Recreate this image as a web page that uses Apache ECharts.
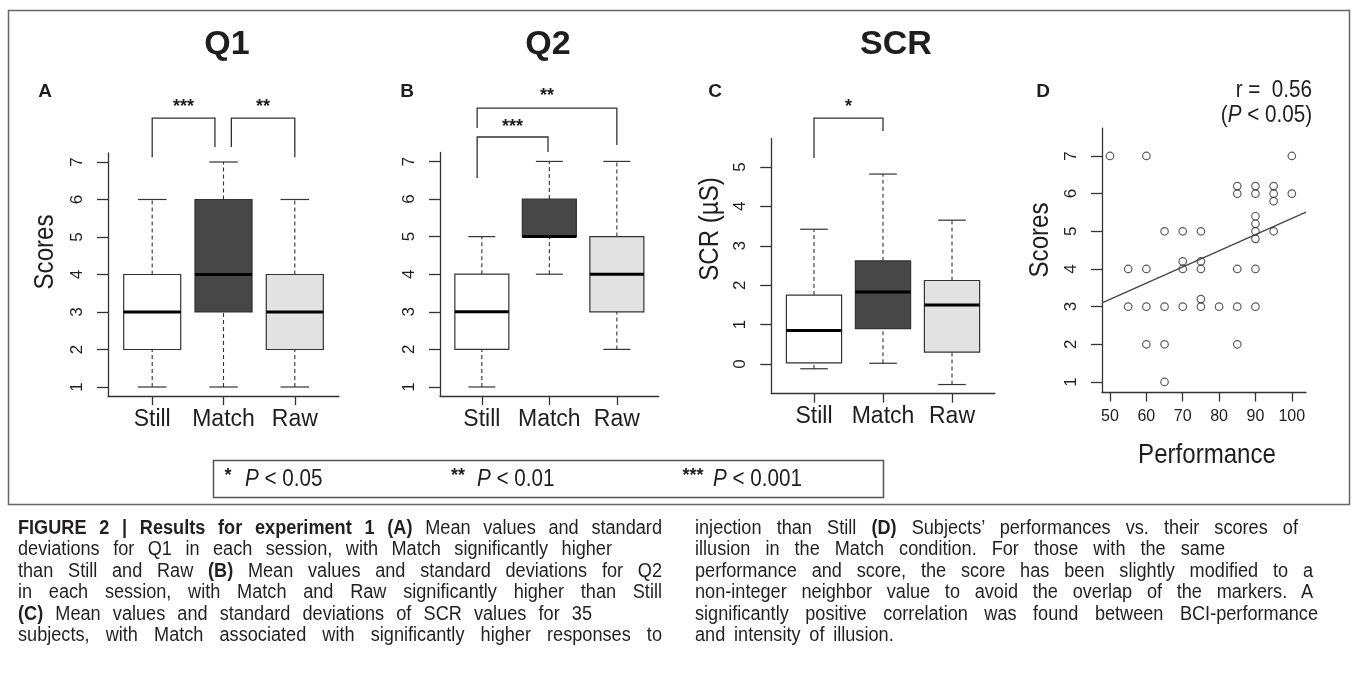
<!DOCTYPE html>
<html><head><meta charset="utf-8">
<script src="https://cdn.jsdelivr.net/npm/echarts@6/dist/echarts.min.js"></script>
<style>
html,body{margin:0;padding:0;background:#fff;width:1355px;height:687px;overflow:hidden;}
#chart{position:absolute;left:0;top:0;width:1355px;height:687px;}
.cap{position:absolute;font-family:"Liberation Sans",Arial,sans-serif;font-size:19.5px;color:#231f20;line-height:21.4px;}
.cap div{height:21.4px;transform:scaleX(0.93);transform-origin:0 0;white-space:normal;}
.cap .j{text-align:justify;text-align-last:justify;}
</style></head><body>
<div id="chart"></div>
<div class="cap" id="capL" style="left:18px;top:517px;"></div>
<div class="cap" id="capR" style="left:695px;top:517px;"></div>
<script>
// ---------------- data ----------------
const categories = ['Still', 'Match', 'Raw'];
// box statistics: [lower whisker, Q1, median, Q3, upper whisker]
const q1Still = [1, 2, 3, 4, 6];
const q1Match = [1, 3, 4, 6, 7];
const q1Raw   = [1, 2, 3, 4, 6];
const q2Still = [1, 2, 3, 4, 5];
const q2Match = [4, 5, 5, 6, 7];
const q2Raw   = [2, 3, 4, 5, 7];
const scrStill = [-0.12, 0.03, 0.85, 1.75, 3.42];
const scrMatch = [0.02, 0.90, 1.83, 2.62, 4.82];
const scrRaw   = [-0.52, 0.30, 1.50, 2.12, 3.65];
const scoreTicks = [1, 2, 3, 4, 5, 6, 7];
const scrTicks = [0, 1, 2, 3, 4, 5];
const perfTicks = [50, 60, 70, 80, 90, 100];
// panel D: performance vs. scores (jittered scores as plotted)
const performance = [50, 60, 100, 85, 90, 95, 85, 90, 95, 100, 95, 90, 90, 65, 70, 75, 90, 95, 90, 70, 75,
                     55, 60, 70, 75, 85, 90, 75, 55, 60, 65, 70, 75, 80, 85, 90, 60, 65, 85, 65];
const scores =      [7, 7, 7, 6.2, 6.2, 6.2, 6, 6, 6, 6, 5.8, 5.4, 5.2, 5, 5, 5, 5, 5, 4.8, 4.2, 4.2,
                     4, 4, 4, 4, 4, 4, 3.2, 3, 3, 3, 3, 3, 3, 3, 3, 2, 2, 2, 1];
// fitted regression line (end points)
const fitX = [47.8, 103.9];
const fitY = [3.10, 5.51];
// significance brackets: [xLeft, xRight, yLeftEnd, yTop, yRightEnd, yStars]
const bracketsQ1 = [[1.0, 1.88, 7.13, 8.17, 7.40, 8.47], [2.11, 3.0, 7.40, 8.17, 7.13, 8.47]];
const starsQ1 = ['***', '**'];
const bracketsQ2 = [[0.93, 1.98, 6.56, 7.65, 7.25, 7.92], [0.93, 3.0, 7.89, 8.42, 7.44, 8.74]];
const starsQ2 = ['***', '**'];
const bracketsSCR = [[1.0, 2.0, 5.23, 6.24, 5.91, 6.52]];
const starsSCR = ['*'];

// ---------------- style ----------------
const SANS = '"Liberation Sans",Arial,sans-serif';
const INK = '#1e1e1e';
const AX = {color: '#333', width: 1.3};
const BOX_FILLS = ['#ffffff', '#474747', '#e2e2e2'];
const NARROW_SCALE = 0.86;

function boxItem(params, api) {
  const x = api.value(0), lo = api.value(1), q1 = api.value(2), med = api.value(3), q3 = api.value(4), hi = api.value(5);
  const p = (a, b) => api.coord([a, b]);
  const half = 0.4, cap = 0.2;
  const seg = (a, b, style) => ({type: 'line', shape: {x1: a[0], y1: a[1], x2: b[0], y2: b[1]}, style});
  const dash = {stroke: '#333', lineWidth: 1.1, lineDash: [4, 3]};
  const solid = {stroke: '#333', lineWidth: 1.2};
  const tl = p(x - half, q3), br = p(x + half, q1);
  return {type: 'group', children: [
    seg(p(x, lo), p(x, q1), dash),
    seg(p(x, q3), p(x, hi), dash),
    seg(p(x - cap, lo), p(x + cap, lo), solid),
    seg(p(x - cap, hi), p(x + cap, hi), solid),
    {type: 'rect', shape: {x: tl[0], y: tl[1], width: br[0] - tl[0], height: br[1] - tl[1]},
     style: {fill: BOX_FILLS[params.dataIndex], stroke: '#333', lineWidth: 1.2}},
    seg(p(x - half, med), p(x + half, med), {stroke: '#000', lineWidth: 3})
  ]};
}
function bracketItem(labels) {
  return function (params, api) {
    const xl = api.value(0), xr = api.value(1), yl = api.value(2), yt = api.value(3), yr = api.value(4), ys = api.value(5);
    const a = api.coord([xl, yl]), b = api.coord([xl, yt]), c = api.coord([xr, yt]), d = api.coord([xr, yr]);
    const s = api.coord([(xl + xr) / 2, ys]);
    return {type: 'group', children: [
      {type: 'polyline', shape: {points: [a, b, c, d]}, style: {stroke: '#333', lineWidth: 1.3, fill: null}},
      {type: 'text', x: s[0], y: s[1], style: {text: labels[params.dataIndex], fill: INK,
        font: 'bold 18px ' + SANS, align: 'center', verticalAlign: 'middle', textAlign: 'center', textVerticalAlign: 'middle'}}
    ]};
  };
}
function boxData(a, b, c) { return [[1].concat(a), [2].concat(b), [3].concat(c)]; }

function catX(g) {
  return {type: 'value', gridIndex: g, min: 0.38, max: 3.62,
    axisLine: {show: true, onZero: false, lineStyle: AX},
    axisTick: {show: true, length: 9, customValues: [1, 2, 3], lineStyle: AX},
    axisLabel: {show: true, customValues: [1, 2, 3], formatter: v => categories[Math.round(v) - 1] || '',
      fontFamily: SANS, fontSize: 23, color: INK, margin: 12},
    splitLine: {show: false}};
}
function valY(g, min, max, ticks) {
  return {type: 'value', gridIndex: g, min, max,
    axisLine: {show: true, onZero: false, lineStyle: AX},
    axisTick: {show: true, length: 11, customValues: ticks, lineStyle: AX},
    axisLabel: {show: true, customValues: ticks, rotate: 90, fontFamily: SANS, fontSize: 17, color: INK, margin: 22},
    splitLine: {show: false}};
}
function txt(text, x, y, font, opts) {
  const o = Object.assign({align: 'center', rotation: 0, scaleX: 1, rich: undefined}, opts || {});
  return {type: 'text', x, y, rotation: o.rotation, scaleX: o.scaleX, z: 10,
    style: {text, font, fill: INK, align: o.align, verticalAlign: 'middle', textAlign: o.align, textVerticalAlign: 'middle', rich: o.rich}};
}
const rich = (size) => ({n: {fontFamily: SANS, fontSize: size, fill: INK, color: INK},
                        i: {fontFamily: SANS, fontSize: size, fontStyle: 'italic', fill: INK, color: INK}});
const narrow = (extra) => Object.assign({scaleX: NARROW_SCALE}, extra || {});

const chart = echarts.init(document.getElementById('chart'), null, {renderer: 'canvas'});
chart.setOption({
  animation: false,
  backgroundColor: '#fff',
  grid: [
    {left: 108, top: 153, width: 231, height: 243},
    {left: 440, top: 152.4, width: 218.7, height: 243.6},
    {left: 771.2, top: 138.6, width: 223.6, height: 255},
    {left: 1102, top: 128.1, width: 204, height: 264.4}
  ],
  xAxis: [catX(0), catX(1), catX(2),
    {type: 'value', gridIndex: 3, min: 47.8, max: 103.9,
     axisLine: {show: true, onZero: false, lineStyle: AX},
     axisTick: {show: true, length: 9, customValues: perfTicks, lineStyle: AX},
     axisLabel: {show: true, customValues: perfTicks, fontFamily: SANS, fontSize: 16, color: INK, margin: 16},
     splitLine: {show: false}}],
  yAxis: [valY(0, 0.76, 7.24, scoreTicks), valY(1, 0.76, 7.24, scoreTicks),
          valY(2, -0.75, 5.72, scrTicks), valY(3, 0.72, 7.74, scoreTicks)],
  series: [
    {type: 'custom', xAxisIndex: 0, yAxisIndex: 0, clip: false, renderItem: boxItem, encode: {x: 0, y: [1, 2, 3, 4, 5]}, data: boxData(q1Still, q1Match, q1Raw)},
    {type: 'custom', xAxisIndex: 1, yAxisIndex: 1, clip: false, renderItem: boxItem, encode: {x: 0, y: [1, 2, 3, 4, 5]}, data: boxData(q2Still, q2Match, q2Raw)},
    {type: 'custom', xAxisIndex: 2, yAxisIndex: 2, clip: false, renderItem: boxItem, encode: {x: 0, y: [1, 2, 3, 4, 5]}, data: boxData(scrStill, scrMatch, scrRaw)},
    {type: 'custom', xAxisIndex: 0, yAxisIndex: 0, clip: false, renderItem: bracketItem(starsQ1), encode: {x: [0, 1], y: [2, 3, 4, 5]}, data: bracketsQ1},
    {type: 'custom', xAxisIndex: 1, yAxisIndex: 1, clip: false, renderItem: bracketItem(starsQ2), encode: {x: [0, 1], y: [2, 3, 4, 5]}, data: bracketsQ2},
    {type: 'custom', xAxisIndex: 2, yAxisIndex: 2, clip: false, renderItem: bracketItem(starsSCR), encode: {x: [0, 1], y: [2, 3, 4, 5]}, data: bracketsSCR},
    {type: 'scatter', xAxisIndex: 3, yAxisIndex: 3, symbol: 'circle', symbolSize: 7.5,
     itemStyle: {color: 'rgba(255,255,255,0)', borderColor: '#333', borderWidth: 1.2},
     data: performance.map((p, i) => [p, scores[i]])},
    {type: 'line', xAxisIndex: 3, yAxisIndex: 3, symbol: 'none', lineStyle: {color: '#444', width: 1.3},
     data: fitX.map((x, i) => [x, fitY[i]])}
  ],
  graphic: [
    {type: 'rect', shape: {x: 8.5, y: 10.5, width: 1341, height: 494}, style: {fill: null, stroke: '#666', lineWidth: 1.5}},
    txt('Q1', 227, 45, 'bold 34px ' + SANS),
    txt('Q2', 548, 45, 'bold 34px ' + SANS),
    txt('SCR', 896, 45, 'bold 34px ' + SANS),
    txt('A', 45, 92, 'bold 19px ' + SANS),
    txt('B', 407, 92, 'bold 19px ' + SANS),
    txt('C', 715, 92, 'bold 19px ' + SANS),
    txt('D', 1043, 92, 'bold 19px ' + SANS),
    txt('Scores', 45, 252, '28px ' + SANS, narrow({rotation: Math.PI / 2})),
    txt('SCR (\u00b5S)', 710, 229, '28px ' + SANS, narrow({rotation: Math.PI / 2})),
    txt('Scores', 1040, 240, '28px ' + SANS, narrow({rotation: Math.PI / 2})),
    txt('Performance', 1207, 455, '28px ' + SANS, narrow()),
    txt('r =  0.56', 1312, 90, '24px ' + SANS, narrow({align: 'right'})),
    txt('{n|(}{i|P}{n| < 0.05)}', 1312, 115, '24px ' + SANS, narrow({align: 'right', rich: rich(24)})),
    {type: 'rect', shape: {x: 213.5, y: 460.5, width: 670, height: 37}, style: {fill: '#fff', stroke: '#555', lineWidth: 1.5}},
    txt('*', 228, 476, 'bold 18px ' + SANS),
    txt('{i|P}{n| < 0.05}', 245, 479, '24px ' + SANS, narrow({align: 'left', rich: rich(24)})),
    txt('**', 458, 476, 'bold 18px ' + SANS),
    txt('{i|P}{n| < 0.01}', 477, 479, '24px ' + SANS, narrow({align: 'left', rich: rich(24)})),
    txt('***', 693, 476, 'bold 18px ' + SANS),
    txt('{i|P}{n| < 0.001}', 713, 479, '24px ' + SANS, narrow({align: 'left', rich: rich(24)}))
  ]
});

// ---------------- caption ----------------
const captionLeft = [
  ['<b>FIGURE 2 | Results for experiment 1 (A)</b> Mean values and standard', 644],
  ['deviations for Q1 in each session, with Match significantly higher', 594],
  ['than Still and Raw <b>(B)</b> Mean values and standard deviations for Q2', 644],
  ['in each session, with Match and Raw significantly higher than Still', 644],
  ['<b>(C)</b> Mean values and standard deviations of SCR values for 35', 574],
  ['subjects, with Match associated with significantly higher responses to', 644]
];
const captionRight = [
  ['injection than Still <b>(D)</b> Subjects\u2019 performances vs. their scores of', 603],
  ['illusion in the Match condition. For those with the same', 530],
  ['performance and score, the score has been slightly modified to a', 618],
  ['non-integer neighbor value to avoid the overlap of the markers. A', 618],
  ['significantly positive correlation was found between BCI-performance', 623],
  ['and intensity of illusion.', 0]
];
function fillCap(id, lines) {
  const el = document.getElementById(id);
  const s = 0.93;
  lines.forEach(([html, w]) => {
    const d = document.createElement('div');
    d.innerHTML = html;
    if (w) { d.className = 'j'; d.style.width = (w / s) + 'px'; } else { d.style.whiteSpace = 'nowrap'; d.style.wordSpacing = '4px'; }
    el.appendChild(d);
  });
}
fillCap('capL', captionLeft);
fillCap('capR', captionRight);
</script>
</body></html>
